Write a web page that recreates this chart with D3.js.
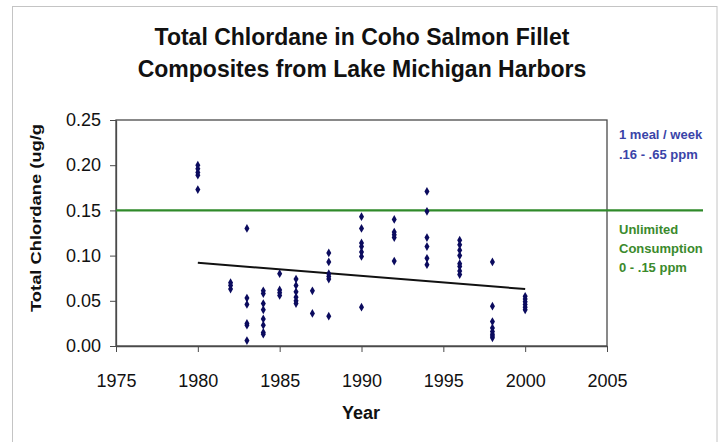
<!DOCTYPE html>
<html>
<head>
<meta charset="utf-8">
<script src="https://cdn.jsdelivr.net/npm/d3@7"></script>
<style>
  body { margin: 0; background: #fff; }
  text { font-family: "Liberation Sans", Arial, sans-serif; }
</style>
</head>
<body>
<svg id="chart" width="723" height="442"></svg>
<script>
// sample years and measured total chlordane (ug/g) per composite
const years = [
  1980, 1980, 1980, 1980, 1980,
  1982, 1982, 1982,
  1983, 1983, 1983, 1983, 1983, 1983,
  1984, 1984, 1984, 1984, 1984, 1984, 1984, 1984,
  1985, 1985, 1985, 1985,
  1986, 1986, 1986, 1986, 1986, 1986,
  1987, 1987,
  1988, 1988, 1988, 1988, 1988, 1988,
  1990, 1990, 1990, 1990, 1990, 1990, 1990,
  1992, 1992, 1992, 1992, 1992,
  1994, 1994, 1994, 1994, 1994, 1994,
  1996, 1996, 1996, 1996, 1996, 1996, 1996, 1996,
  1998, 1998, 1998, 1998, 1998, 1998, 1998, 1998,
  2000, 2000, 2000, 2000, 2000, 2000
];
const chlordane = [
  0.200, 0.196, 0.192, 0.189, 0.173,
  0.070, 0.067, 0.063,
  0.130, 0.053, 0.046, 0.025, 0.023, 0.006,
  0.061, 0.058, 0.047, 0.040, 0.030, 0.023, 0.015, 0.013,
  0.080, 0.062, 0.059, 0.056,
  0.074, 0.067, 0.060, 0.054, 0.050, 0.047,
  0.061, 0.036,
  0.103, 0.093, 0.080, 0.077, 0.074, 0.033,
  0.143, 0.130, 0.114, 0.110, 0.104, 0.099, 0.043,
  0.140, 0.126, 0.123, 0.120, 0.094,
  0.171, 0.149, 0.120, 0.110, 0.097, 0.090,
  0.117, 0.112, 0.106, 0.100, 0.091, 0.088, 0.083, 0.079,
  0.093, 0.044, 0.027, 0.020, 0.016, 0.013, 0.011, 0.009,
  0.055, 0.052, 0.049, 0.046, 0.043, 0.040
];
// linear trend endpoints
const trendYears = [1980, 2000];
const trendValues = [0.092, 0.063];
const advisoryLevel = 0.15;
const xTicks = [1975, 1980, 1985, 1990, 1995, 2000, 2005];
const yTicks = [0, 0.05, 0.10, 0.15, 0.20, 0.25];
const titleLines = ["Total Chlordane in Coho Salmon Fillet", "Composites from Lake Michigan Harbors"];
const upperNote = ["1 meal / week", ".16 - .65 ppm"];
const lowerNote = ["Unlimited", "Consumption", "0 - .15 ppm"];

const svg = d3.select("#chart");
const margin = { left: 116, top: 120, right: 607, bottom: 346 };

// outer frame (runs off the bottom of the picture)
svg.append("rect")
  .attr("x", 12.5).attr("y", 6.5)
  .attr("width", 704.5).attr("height", 450)
  .attr("fill", "#fff")
  .attr("stroke", "#c4c4c4");

const x = d3.scaleLinear().domain([1975, 2005]).range([margin.left, margin.right]);
const y = d3.scaleLinear().domain([0, 0.25]).range([margin.bottom, margin.top]);

// title
svg.append("g")
  .selectAll("text")
  .data(titleLines)
  .join("text")
  .attr("x", 362)
  .attr("y", (d, i) => 45 + i * 32)
  .attr("text-anchor", "middle")
  .attr("font-size", 23)
  .attr("font-weight", "bold")
  .attr("fill", "#111")
  .text(d => d);

// plot frame
svg.append("rect")
  .attr("x", margin.left).attr("y", margin.top)
  .attr("width", margin.right - margin.left)
  .attr("height", margin.bottom - margin.top)
  .attr("fill", "#fff")
  .attr("stroke", "#4a4a4a")
  .attr("stroke-width", 1.3);

// axes
const xAxis = svg.append("g")
  .attr("transform", `translate(0,${margin.bottom})`)
  .call(d3.axisBottom(x).tickValues(xTicks).tickFormat(d3.format("d")).tickSize(6).tickSizeOuter(0));
xAxis.select(".domain").attr("stroke", "#4a4a4a").attr("stroke-width", 1.3);
xAxis.selectAll("line").attr("stroke", "#4a4a4a");
xAxis.selectAll("text")
  .attr("font-size", 18)
  .attr("font-family", "Liberation Sans, Arial, sans-serif")
  .attr("fill", "#111")
  .attr("y", 41)
  .attr("dy", 0);

const yAxis = svg.append("g")
  .attr("transform", `translate(${margin.left},0)`)
  .call(d3.axisLeft(y).tickValues(yTicks).tickFormat(d3.format(".2f")).tickSize(6).tickSizeOuter(0));
yAxis.select(".domain").attr("stroke", "#4a4a4a").attr("stroke-width", 1.3);
yAxis.selectAll("line").attr("stroke", "#4a4a4a");
yAxis.selectAll("text")
  .attr("font-size", 18)
  .attr("font-family", "Liberation Sans, Arial, sans-serif")
  .attr("fill", "#111")
  .attr("x", -15);

// axis titles
svg.append("text")
  .attr("x", 361).attr("y", 419)
  .attr("text-anchor", "middle")
  .attr("font-size", 18)
  .attr("font-weight", "bold")
  .attr("fill", "#111")
  .text("Year");

svg.append("text")
  .attr("transform", "translate(41,218) rotate(-90)")
  .attr("text-anchor", "middle")
  .attr("font-size", 15)
  .attr("font-weight", "bold")
  .attr("fill", "#111")
  .attr("textLength", 188)
  .attr("lengthAdjust", "spacingAndGlyphs")
  .text("Total Chlordane (ug/g");

// advisory line at 0.15
svg.append("line")
  .attr("x1", margin.left).attr("x2", 703)
  .attr("y1", y(advisoryLevel)).attr("y2", y(advisoryLevel))
  .attr("stroke", "#2f8a2a")
  .attr("stroke-width", 2.2);

// trend line
svg.append("line")
  .attr("x1", x(trendYears[0])).attr("y1", y(trendValues[0]))
  .attr("x2", x(trendYears[1])).attr("y2", y(trendValues[1]))
  .attr("stroke", "#111")
  .attr("stroke-width", 2);

// points
const diamond = d3.symbol().type(d3.symbolDiamond).size(22);
svg.append("g")
  .selectAll("path")
  .data(years.map((d, i) => ({ year: d, value: chlordane[i] })))
  .join("path")
  .attr("transform", d => `translate(${x(d.year)},${y(d.value)})`)
  .attr("d", diamond)
  .attr("fill", "#0b0b5e");

// consumption notes
svg.append("g")
  .selectAll("text")
  .data(upperNote)
  .join("text")
  .attr("x", 619)
  .attr("y", (d, i) => 139 + i * 20)
  .attr("font-size", 13)
  .attr("font-weight", "bold")
  .attr("fill", "#3a44a8")
  .text(d => d);

svg.append("g")
  .selectAll("text")
  .data(lowerNote)
  .join("text")
  .attr("x", 619)
  .attr("y", (d, i) => 234 + i * 19)
  .attr("font-size", 13)
  .attr("font-weight", "bold")
  .attr("fill", "#3b8a2c")
  .text(d => d);
</script>
</body>
</html>
